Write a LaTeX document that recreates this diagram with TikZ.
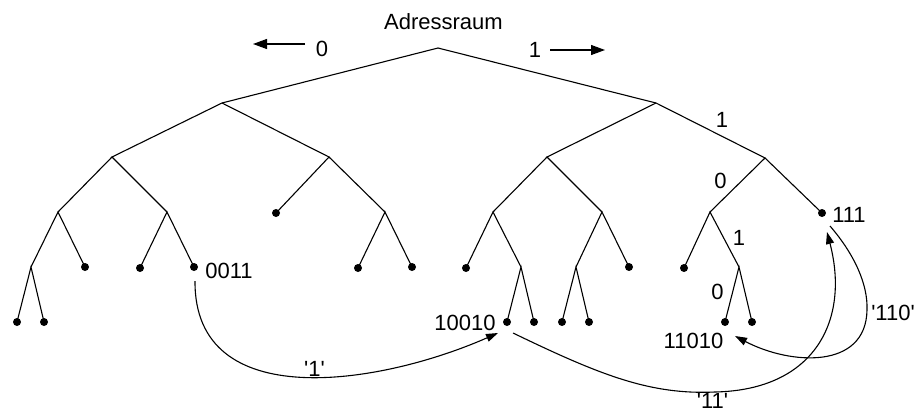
\documentclass[tikz,border=0pt]{standalone}
\usepackage{fontspec}
\setmainfont{Liberation Sans}
\usetikzlibrary{arrows.meta}
\newcommand{\sq}{\textquotesingle}
\tikzset{
  edge/.style={line width=1.1pt},
  leafdot/.style={circle,fill=black,inner sep=0pt,minimum size=8pt},
  lbl/.style={font=\fontsize{22}{26}\selectfont,inner sep=0pt,anchor=base},
  curvearr/.style={line width=1.1pt,-{Triangle[length=12pt,width=8pt]}},
  bigarr/.style={line width=1.1pt,-{Triangle[length=14pt,width=10pt]}}
}
\begin{document}
\begin{tikzpicture}[x=1pt,y=-1pt]
\useasboundingbox (0,0) rectangle (916,412);
% inner nodes
\coordinate (r) at (438,48);
\coordinate (L) at (222,103);
\coordinate (R) at (656,103);
\coordinate (L0) at (112,157);
\coordinate (L1) at (329,157);
\coordinate (L00) at (58,212);
\coordinate (L01) at (167,212);
\coordinate (L000) at (31,267);
\coordinate (L11) at (385,212);
\coordinate (R0) at (547,157);
\coordinate (R1) at (765,158);
\coordinate (R00) at (493,212);
\coordinate (R01) at (602,212);
\coordinate (R001) at (521,267);
\coordinate (R010) at (576,267);
\coordinate (R10) at (710,212);
\coordinate (R101) at (739,267);
% leaves
\node[leafdot] (L001) at (85,267) {};
\node[leafdot] (L0000) at (17,322) {};
\node[leafdot] (L0001) at (44,322) {};
\node[leafdot] (L010) at (140,268) {};
\node[leafdot] (L011) at (194,267) {};
\node[leafdot] (L10) at (276,213) {};
\node[leafdot] (L110) at (358,268) {};
\node[leafdot] (L111) at (412,267) {};
\node[leafdot] (R000) at (466,268) {};
\node[leafdot] (R0010) at (507,322) {};
\node[leafdot] (R0011) at (534,322) {};
\node[leafdot] (R011) at (629,267) {};
\node[leafdot] (R0100) at (562,322) {};
\node[leafdot] (R0101) at (589,322) {};
\node[leafdot] (R11) at (822,213) {};
\node[leafdot] (R100) at (684,268) {};
\node[leafdot] (R1010) at (725,322) {};
\node[leafdot] (R1011) at (752,322) {};
% edges
\draw[edge] (L) -- (r) -- (R);
\draw[edge] (L0) -- (L) -- (L1);
\draw[edge] (L00) -- (L0) -- (L01);
\draw[edge] (L000) -- (L00) -- (L001.center);
\draw[edge] (L0000.center) -- (L000) -- (L0001.center);
\draw[edge] (L010.center) -- (L01) -- (L011.center);
\draw[edge] (L10.center) -- (L1) -- (L11);
\draw[edge] (L110.center) -- (L11) -- (L111.center);
\draw[edge] (R0) -- (R) -- (R1);
\draw[edge] (R00) -- (R0) -- (R01);
\draw[edge] (R000.center) -- (R00) -- (R001);
\draw[edge] (R0010.center) -- (R001) -- (R0011.center);
\draw[edge] (R010) -- (R01) -- (R011.center);
\draw[edge] (R0100.center) -- (R010) -- (R0101.center);
\draw[edge] (R10) -- (R1) -- (R11.center);
\draw[edge] (R100.center) -- (R10) -- (R101);
\draw[edge] (R1010.center) -- (R101) -- (R1011.center);
% top labels and arrows
\node[lbl] (title) at (443.5,30) {Adressraum};
\node[lbl] (zeroL) at (322,57) {0};
\node[lbl] (oneR) at (535,58) {1};
\coordinate (aLs) at (305,44);
\coordinate (aLe) at (253,44);
\coordinate (aRs) at (550,50);
\coordinate (aRe) at (605,50);
\draw[bigarr] (aLs) -- (aLe);
\draw[bigarr] (aRs) -- (aRe);
% edge labels
\node[lbl] (e1) at (722,128) {1};
\node[lbl] (e2) at (720.5,188) {0};
\node[lbl] (e3) at (739,245) {1};
\node[lbl] (e4) at (717.5,299) {0};
% leaf labels
\node[lbl] (t0011) at (229,278) {0011};
\node[lbl] (t10010) at (465,330) {10010};
\node[lbl] (t11010) at (693.5,348) {11010};
\node[lbl] (t111) at (849,222) {111};
% curved connectors
\coordinate (s1) at (195,281);
\coordinate (e1end) at (498,333);
\draw[curvearr] (s1) .. controls (194,415) and (380,385) .. (e1end);
\node[lbl] (q1) at (314.5,376) {\sq1\sq};
\coordinate (s2) at (513,333);
\coordinate (m2) at (715,392);
\coordinate (e2end) at (827,232);
\draw[curvearr] (s2) .. controls (600,375) and (650,395) .. (m2) .. controls (815,390) and (850,320) .. (e2end);
\node[lbl] (q2) at (712.5,408) {\sq11\sq};
\coordinate (s3) at (830,226);
\coordinate (m3) at (867,310);
\coordinate (e3end) at (735,336);
\draw[curvearr] (s3) .. controls (855,255) and (868,285) .. (m3) .. controls (866,370) and (790,365) .. (e3end);
\node[lbl] (q3) at (893,320) {\sq110\sq};
\end{tikzpicture}
\end{document}
